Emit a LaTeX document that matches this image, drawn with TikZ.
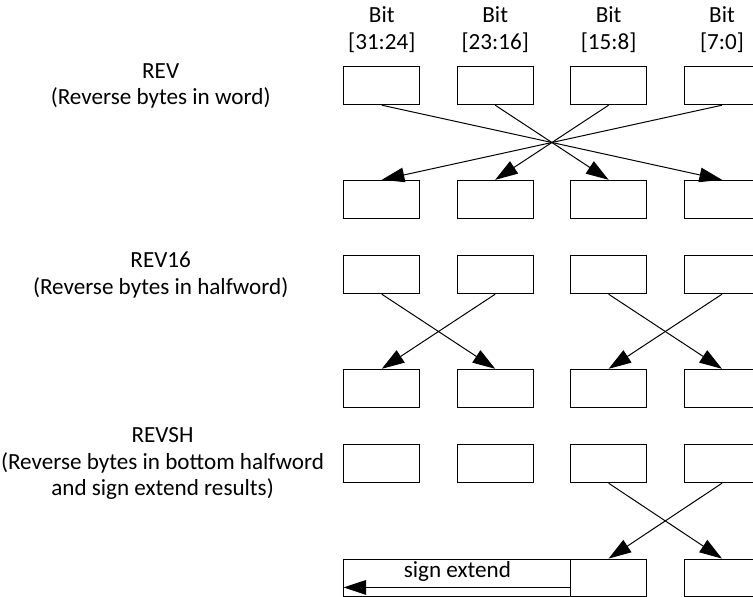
\documentclass[tikz,border=0pt]{standalone}
\usepackage{fontspec}
\setmainfont{Carlito}
\usetikzlibrary{arrows.meta,positioning}

\begin{document}
\begin{tikzpicture}[
  byte/.style={draw, line width=0.75pt, minimum width=2cm, minimum height=1cm, inner sep=0pt},
  conn/.style={-{Triangle[length=17pt,width=11pt]}, line width=0.75pt},
  lbl/.style={font=\fontsize{17.4}{20}\selectfont, align=center}]
  \useasboundingbox (0,0) rectangle (19.92,15.77);
  % column headings
  \node[lbl] (h1) at (10.1,14.98) {Bit\\{[31:24]}};
  \node[lbl] (h2) at (13.1,14.98) {Bit\\{[23:16]}};
  \node[lbl] (h3) at (16.1,14.98) {Bit\\{[15:8]}};
  \node[lbl] (h4) at (19.1,14.98) {Bit\\{[7:0]}};
  % instruction names
  \node[lbl] (rev) at (4.25,13.5) {REV\\(Reverse bytes in word)};
  \node[lbl] (rev16) at (4.25,8.5) {REV16\\(Reverse bytes in halfword)};
  \node[lbl] (revsh) at (4.3,3.5) {REVSH\\(Reverse bytes in bottom halfword\\and sign extend results)};
  % byte boxes
  \foreach \c/\x in {1/10.1,2/13.1,3/16.1,4/19.1} {
    \node[byte] (ra\c) at (\x,13.5) {};
    \node[byte] (rb\c) at (\x,10.5) {};
    \node[byte] (ha\c) at (\x,8.5) {};
    \node[byte] (hb\c) at (\x,5.5) {};
    \node[byte] (sa\c) at (\x,3.5) {};
  }
  \node[byte] (sb3) at (16.1,0.48) {};
  \node[byte] (sb4) at (19.1,0.48) {};
  \node[byte, minimum width=6cm] (sgn) at (12.1,0.48) {};
  \node[lbl] (sgntxt) at ([yshift=0.17cm]sgn.center) {sign extend};
  % REV
  \draw[conn] (ra1.south) -- (rb4.north);
  \draw[conn] (ra2.south) -- (rb3.north);
  \draw[conn] (ra3.south) -- (rb2.north);
  \draw[conn] (ra4.south) -- (rb1.north);
  % REV16
  \draw[conn] (ha1.south) -- (hb2.north);
  \draw[conn] (ha2.south) -- (hb1.north);
  \draw[conn] (ha3.south) -- (hb4.north);
  \draw[conn] (ha4.south) -- (hb3.north);
  % REVSH
  \draw[conn] (sa3.south) -- (sb4.north);
  \draw[conn] (sa4.south) -- (sb3.north);
  \draw[conn] ([yshift=-0.25cm]sb3.west) -- ([yshift=-0.25cm]sgn.west);
\end{tikzpicture}
\end{document}
